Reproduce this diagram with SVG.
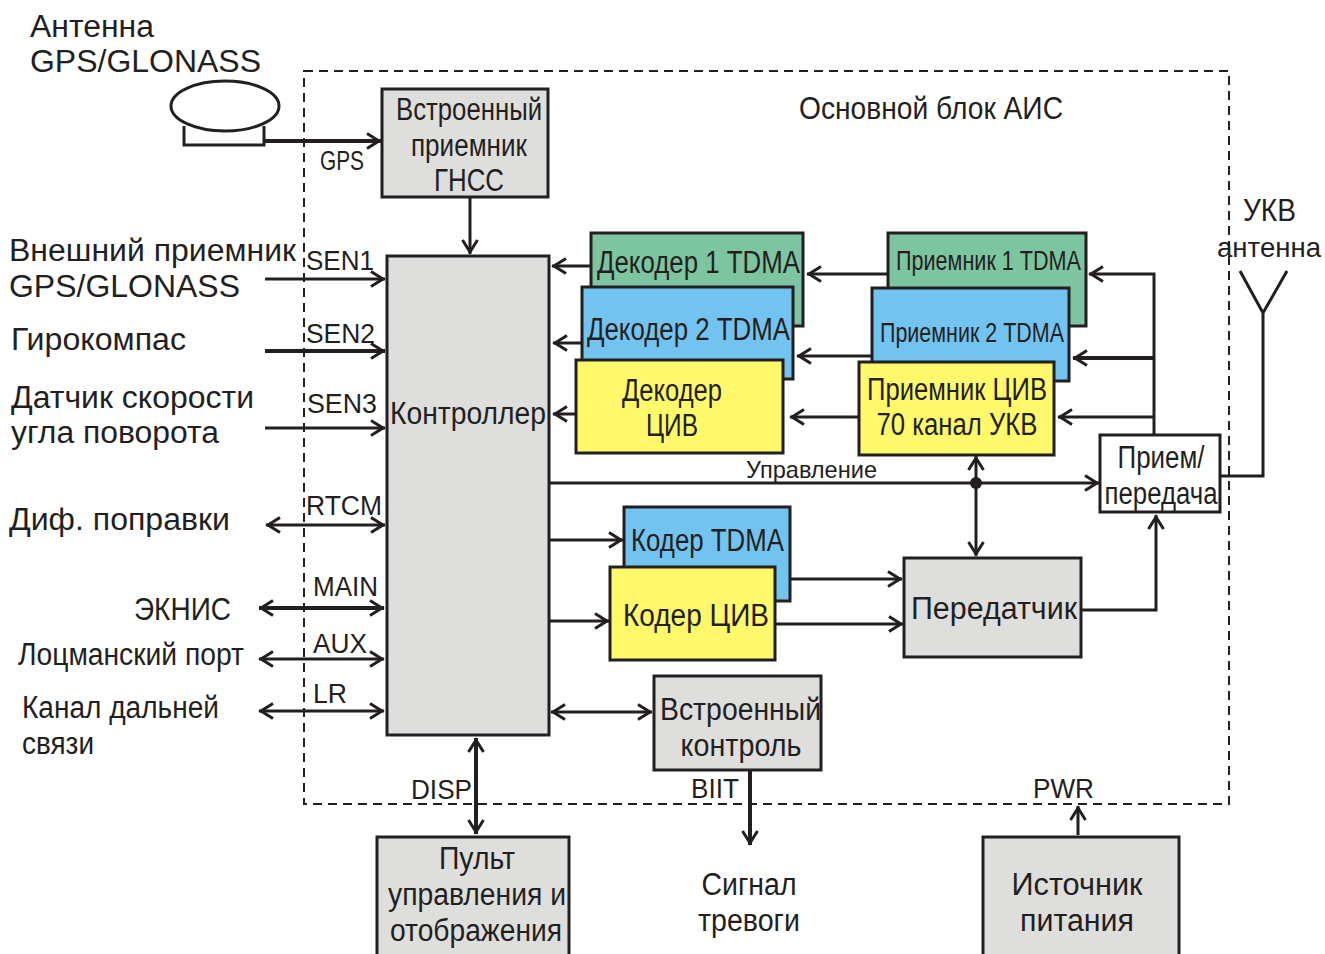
<svg xmlns="http://www.w3.org/2000/svg" width="1325" height="954" viewBox="0 0 1325 954">
<style>
text{font-family:"Liberation Sans",Arial,sans-serif;fill:#231f20;font-size:31px}
.m{text-anchor:middle}
.b{stroke:#231f20;stroke-width:3;fill:#dededd}
.g{fill:#7dc5a0}.c{fill:#72c3f0}.y{fill:#fff96b}.w{fill:#fff}
.l{stroke:#231f20;stroke-width:3;fill:none}
.t{stroke-width:4}
.s{font-size:27px}
</style>
<defs>
<marker id="a" markerUnits="userSpaceOnUse" markerWidth="20" markerHeight="18" refX="17" refY="9" orient="auto-start-reverse" viewBox="0 0 20 18"><path d="M3 1.5 15 9 3 16.5" fill="none" stroke="#231f20" stroke-width="3"/></marker>
</defs>
<rect x="304" y="71" width="925" height="733" fill="none" stroke="#231f20" stroke-width="2" stroke-dasharray="9 6"/>
<g id="connectors">
<path class="l t" d="M264 141H381" marker-end="url(#a)"/>
<path class="l" d="M470 197V254" marker-end="url(#a)"/>
<path class="l" d="M265 279H385" marker-end="url(#a)"/>
<path class="l t" d="M265 351H385" marker-end="url(#a)"/>
<path class="l" d="M265 428H385" marker-end="url(#a)"/>
<path class="l" d="M266 525H385" marker-start="url(#a)" marker-end="url(#a)"/>
<path class="l t" d="M259 608H384" marker-start="url(#a)" marker-end="url(#a)"/>
<path class="l" d="M259 659H384" marker-start="url(#a)" marker-end="url(#a)"/>
<path class="l" d="M259 711H384" marker-start="url(#a)" marker-end="url(#a)"/>
<path class="l" d="M591 266H552" marker-end="url(#a)"/>
<path class="l" d="M582 343H553" marker-end="url(#a)"/>
<path class="l" d="M576 414H553" marker-end="url(#a)"/>
<path class="l" d="M888 274H807" marker-end="url(#a)"/>
<path class="l" d="M872 356H797" marker-end="url(#a)"/>
<path class="l" d="M859 417H790" marker-end="url(#a)"/>
<path class="l" d="M1154 435V274H1089" marker-end="url(#a)"/>
<path class="l t" d="M1154 358H1073" marker-end="url(#a)"/>
<path class="l" d="M1154 417H1058" marker-end="url(#a)"/>
<path class="l" d="M549 483H1099" marker-end="url(#a)"/>
<path class="l" d="M976 456V556" marker-start="url(#a)" marker-end="url(#a)"/>
<circle cx="976" cy="483" r="6" fill="#231f20"/>
<path class="l" d="M549 540H623" marker-end="url(#a)"/>
<path class="l" d="M549 621H609" marker-end="url(#a)"/>
<path class="l" d="M790 579H902" marker-end="url(#a)"/>
<path class="l" d="M775 624H903" marker-end="url(#a)"/>
<path class="l" d="M1081 610H1156V515" marker-end="url(#a)"/>
<path class="l" d="M551 712H652" marker-start="url(#a)" marker-end="url(#a)"/>
<path class="l t" d="M476 738V834" marker-start="url(#a)" marker-end="url(#a)"/>
<path class="l t" d="M750 770V845" marker-end="url(#a)"/>
<path class="l" d="M1078 835V806" marker-end="url(#a)"/>
<path class="l" d="M1220 476H1263V313M1240 271 1263 313 1287 271"/>
</g>
<g id="gps-antenna">
<path class="l" d="M184 126V145H264V126"/>
<ellipse cx="225" cy="106" rx="54" ry="25" fill="#fff" stroke="#231f20" stroke-width="3"/>
</g>
<g id="gnss"><rect class="b" x="382" y="89" width="166" height="108"/>
<text class="m" x="469" y="120" textLength="146" lengthAdjust="spacingAndGlyphs">Встроенный</text>
<text class="m" x="469" y="156" textLength="116" lengthAdjust="spacingAndGlyphs">приемник</text>
<text class="m" x="469" y="191" textLength="70" lengthAdjust="spacingAndGlyphs">ГНСС</text></g>
<g id="controller"><rect class="b" x="387" y="256" width="162" height="479"/>
<text x="390" y="424" textLength="156" lengthAdjust="spacingAndGlyphs">Контроллер</text></g>
<g id="dec1"><rect class="b g" x="591" y="233" width="212" height="93"/>
<text x="597" y="273" textLength="203" lengthAdjust="spacingAndGlyphs">Декодер 1 TDMA</text></g>
<g id="dec2"><rect class="b c" x="582" y="287" width="211" height="92"/>
<text x="587" y="340" textLength="203" lengthAdjust="spacingAndGlyphs">Декодер 2 TDMA</text></g>
<g id="decciv"><rect class="b y" x="576" y="360" width="207" height="93"/>
<text class="m" x="672" y="401" textLength="100" lengthAdjust="spacingAndGlyphs">Декодер</text>
<text class="m" x="672" y="436" textLength="52" lengthAdjust="spacingAndGlyphs">ЦИВ</text></g>
<g id="rx1"><rect class="b g" x="888" y="233" width="198" height="93"/>
<text class="s" x="896" y="270" textLength="185" lengthAdjust="spacingAndGlyphs">Приемник 1 TDMA</text></g>
<g id="rx2"><rect class="b c" x="872" y="288" width="197" height="93"/>
<text class="s" x="880" y="342" textLength="184" lengthAdjust="spacingAndGlyphs">Приемник 2 TDMA</text></g>
<g id="rxciv"><rect class="b y" x="859" y="362" width="195" height="93"/>
<text class="m" x="957" y="400" textLength="180" lengthAdjust="spacingAndGlyphs">Приемник ЦИВ</text>
<text class="m" x="957" y="435" textLength="161" lengthAdjust="spacingAndGlyphs">70 канал УКВ</text></g>
<g id="trx"><rect class="b w" x="1100" y="435" width="120" height="77"/>
<text class="m" x="1161" y="468" textLength="87" lengthAdjust="spacingAndGlyphs">Прием/</text>
<text class="m" x="1161" y="504" textLength="113" lengthAdjust="spacingAndGlyphs">передача</text></g>
<g id="codertdma"><rect class="b c" x="624" y="507" width="166" height="94"/>
<text x="631" y="551" textLength="153" lengthAdjust="spacingAndGlyphs">Кодер TDMA</text></g>
<g id="coderciv"><rect class="b y" x="610" y="567" width="165" height="93"/>
<text x="623" y="626" textLength="146" lengthAdjust="spacingAndGlyphs">Кодер ЦИВ</text></g>
<g id="tx"><rect class="b" x="904" y="558" width="177" height="99"/>
<text x="911" y="619" textLength="166" lengthAdjust="spacingAndGlyphs">Передатчик</text></g>
<g id="bit"><rect class="b" x="654" y="676" width="167" height="94"/>
<text x="660" y="720" textLength="161" lengthAdjust="spacingAndGlyphs">Встроенный</text>
<text class="m" x="741" y="756" textLength="121" lengthAdjust="spacingAndGlyphs">контроль</text></g>
<g id="display"><rect class="b" x="377" y="837" width="192" height="120"/>
<text class="m" x="477" y="869" textLength="76" lengthAdjust="spacingAndGlyphs">Пульт</text>
<text class="m" x="477" y="905" textLength="178" lengthAdjust="spacingAndGlyphs">управления и</text>
<text class="m" x="476" y="941" textLength="172" lengthAdjust="spacingAndGlyphs">отображения</text></g>
<g id="power"><rect class="b" x="983" y="837" width="196" height="120"/>
<text class="m" x="1077" y="895" textLength="131" lengthAdjust="spacingAndGlyphs">Источник</text>
<text class="m" x="1077" y="931" textLength="114" lengthAdjust="spacingAndGlyphs">питания</text></g>
<g id="labels">
<text x="30" y="37" textLength="124" lengthAdjust="spacingAndGlyphs">Антенна</text>
<text x="30" y="72" textLength="231" lengthAdjust="spacingAndGlyphs">GPS/GLONASS</text>
<text x="799" y="119" textLength="264" lengthAdjust="spacingAndGlyphs">Основной блок АИС</text>
<text x="320" y="170" textLength="44" lengthAdjust="spacingAndGlyphs" style="font-size:27px">GPS</text>
<text x="9" y="261" textLength="287" lengthAdjust="spacingAndGlyphs">Внешний приемник</text>
<text x="9" y="297" textLength="231" lengthAdjust="spacingAndGlyphs">GPS/GLONASS</text>
<text x="11" y="350" textLength="175" lengthAdjust="spacingAndGlyphs">Гирокомпас</text>
<text x="11" y="408" textLength="243" lengthAdjust="spacingAndGlyphs">Датчик скорости</text>
<text x="11" y="443" textLength="208" lengthAdjust="spacingAndGlyphs">угла поворота</text>
<text x="9" y="530" textLength="221" lengthAdjust="spacingAndGlyphs">Диф. поправки</text>
<text x="134" y="620" textLength="97" lengthAdjust="spacingAndGlyphs">ЭКНИС</text>
<text x="18" y="665" textLength="226" lengthAdjust="spacingAndGlyphs">Лоцманский порт</text>
<text x="22" y="718" textLength="197" lengthAdjust="spacingAndGlyphs">Канал дальней</text>
<text x="22" y="754" textLength="72" lengthAdjust="spacingAndGlyphs">связи</text>
<text class="s" x="306" y="270" textLength="68" lengthAdjust="spacingAndGlyphs">SEN1</text>
<text class="s" x="306" y="343" textLength="69" lengthAdjust="spacingAndGlyphs">SEN2</text>
<text class="s" x="307" y="413" textLength="70" lengthAdjust="spacingAndGlyphs">SEN3</text>
<text class="s" x="306" y="515" textLength="76" lengthAdjust="spacingAndGlyphs">RTCM</text>
<text class="s" x="313" y="596" textLength="65" lengthAdjust="spacingAndGlyphs">MAIN</text>
<text class="s" x="313" y="653" textLength="54" lengthAdjust="spacingAndGlyphs">AUX</text>
<text class="s" x="313" y="703" textLength="34" lengthAdjust="spacingAndGlyphs">LR</text>
<text class="s" x="411" y="799" textLength="61" lengthAdjust="spacingAndGlyphs">DISP</text>
<text class="s" x="691" y="798" textLength="48" lengthAdjust="spacingAndGlyphs">BIIT</text>
<text class="s" x="1033" y="798" textLength="61" lengthAdjust="spacingAndGlyphs">PWR</text>
<text x="746" y="478" textLength="131" lengthAdjust="spacingAndGlyphs" style="font-size:24px">Управление</text>
<text x="1243" y="221" textLength="53" lengthAdjust="spacingAndGlyphs">УКВ</text>
<text x="1217" y="257" style="font-size:28px" textLength="104" lengthAdjust="spacingAndGlyphs">антенна</text>
<text class="m" x="749" y="895" textLength="95" lengthAdjust="spacingAndGlyphs">Сигнал</text>
<text class="m" x="749" y="931" textLength="102" lengthAdjust="spacingAndGlyphs">тревоги</text>
</g>
</svg>
